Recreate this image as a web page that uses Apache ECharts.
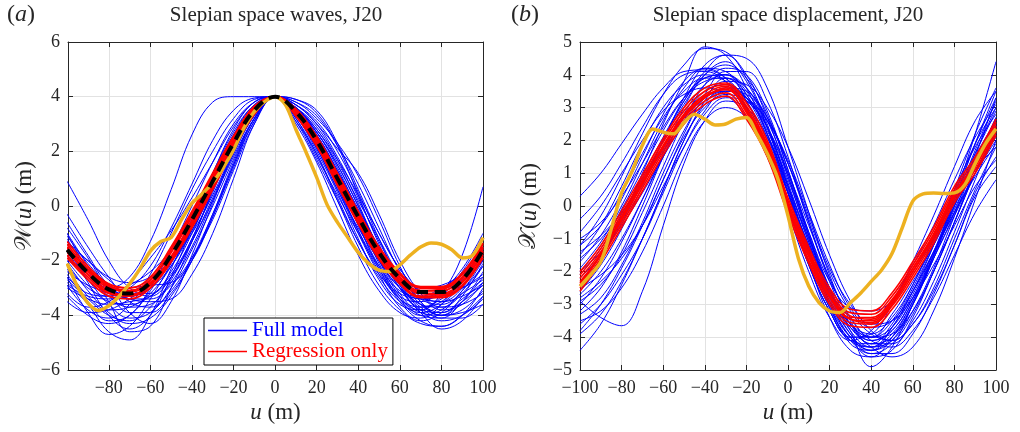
<!DOCTYPE html>
<html><head><meta charset="utf-8">
<script src="https://cdn.jsdelivr.net/npm/echarts@6/dist/echarts.min.js"></script>
<style>html,body{margin:0;padding:0;background:#fff}#c{width:1020px;height:432px}</style>
</head><body><div id="c"></div>
<script>
// ---------- data ----------
const xs = [-100,-90,-80,-70,-60,-50,-40,-30,-20,-10,0,10,20,30,40,50,60,70,80,90,100];
const xsFine = [-100,-95,-90,-85,-80,-75,-70,-65,-60,-55,-50,-45,-40,-35,-30,-25,-20,-15,-10,-5,0,5,10,15,20,25,30,35,40,45,50,55,60,65,70,75,80,85,90,95,100];

// panel (a): waves
const fullModelA = [
 [0.9,-0.5,-2.0,-3.0,-3.3,-2.6,-1.2,0.5,2.2,3.6,4,3.2,1.8,0.4,-1.0,-2.3,-3.4,-3.8,-3.2,-1.8,0.7],
 [-2.5,-3.5,-4.2,-4.0,-3.0,-1.6,0.0,1.6,3.0,3.8,4,3.6,2.8,1.6,0.2,-1.2,-2.6,-3.6,-4.0,-3.5,-2.4],
 [-1.0,-2.2,-3.5,-4.6,-4.4,-3.0,-1.3,0.6,2.4,3.6,4,3.4,2.2,0.7,-0.9,-2.2,-3.1,-3.3,-3.0,-2.5,-2.0],
 [-2.8,-3.6,-4.6,-4.9,-4.0,-2.3,-0.6,1.2,2.7,3.7,4,3.7,3.0,1.8,0.3,-1.3,-2.6,-3.4,-3.6,-3.2,-2.7],
 [-1.4,-2.0,-2.6,-2.8,-2.6,-2.0,-1.0,0.4,2.0,3.4,4,3.3,2.1,0.6,-0.8,-2.0,-3.0,-3.6,-3.9,-3.5,-2.9],
 [-3.0,-3.4,-3.6,-3.5,-3.3,-2.6,-1.3,0.3,1.9,3.3,4,3.5,2.5,1.2,-0.2,-1.6,-2.8,-3.6,-3.7,-3.2,-2.2],
 [-0.3,-1.5,-2.6,-3.5,-3.7,-3.1,-1.9,-0.3,1.5,3.1,4,3.1,1.9,0.3,-1.3,-2.6,-3.5,-3.9,-3.6,-2.8,-1.5],
 [-2.2,-3.0,-3.3,-3.0,-2.2,-0.8,0.8,2.4,3.5,3.95,4,3.9,3.5,2.3,0.6,-1.0,-2.3,-3.1,-3.3,-3.0,-2.5],
 [-1.8,-2.7,-3.6,-4.1,-3.9,-3.0,-1.6,0.0,1.7,3.2,4,3.5,2.6,1.2,-0.4,-2.0,-3.3,-4.0,-4.1,-3.5,-2.6],
 [-2.6,-3.2,-3.3,-2.9,-2.4,-1.6,-0.3,1.2,2.6,3.6,4,3.6,2.7,1.5,0.0,-1.5,-2.6,-3.0,-2.9,-2.5,-1.9],
 [-1.2,-2.4,-3.3,-3.7,-3.6,-2.8,-1.5,0.2,2.0,3.4,4,3.0,1.6,-0.1,-1.8,-3.1,-3.9,-4.1,-3.6,-2.6,-1.5],
 [-3.3,-4.0,-4.3,-4.0,-3.1,-1.9,-0.5,1.0,2.4,3.5,4,3.8,3.3,2.2,0.8,-0.8,-2.4,-3.5,-4.0,-3.9,-3.6],
 [-2.0,-2.9,-3.5,-3.6,-3.3,-2.5,-1.2,0.6,2.4,3.6,4,3.3,2.0,0.5,-1.2,-2.7,-3.6,-3.8,-3.3,-2.4,-1.2],
 [-1.5,-2.8,-4.0,-4.5,-4.0,-2.6,-0.8,1.0,2.6,3.7,4,3.6,2.8,1.7,0.4,-1.0,-2.3,-3.2,-3.7,-3.6,-3.2],
 [-2.4,-2.9,-3.1,-3.0,-2.9,-2.8,-2.0,-0.4,1.5,3.2,4,3.4,2.4,1.0,-0.6,-2.0,-3.0,-3.4,-3.3,-3.0,-2.6],
 [-0.6,-1.8,-2.9,-3.3,-3.0,-2.0,-0.5,1.2,2.8,3.8,4,3.7,3.0,2.1,1.2,-0.3,-2.0,-3.2,-3.8,-3.6,-2.8],
 [-2.9,-3.8,-4.1,-3.6,-2.5,-1.0,0.6,2.0,3.2,3.9,4,3.5,2.4,0.8,-0.9,-2.4,-3.4,-3.7,-3.4,-2.8,-2.0],
 [-1.9,-2.5,-3.0,-3.4,-3.5,-3.4,-2.5,-1.0,1.0,3.0,4,3.2,1.9,0.2,-1.5,-2.9,-3.8,-4.3,-4.4,-4.0,-3.3],
 [-2.3,-3.3,-3.8,-3.7,-3.2,-2.2,-0.8,0.8,2.3,3.5,4,3.7,3.1,2.0,0.5,-1.2,-2.8,-3.8,-4.2,-4.0,-3.4],
 [-1.1,-2.1,-2.9,-3.4,-3.4,-2.9,-1.9,-0.5,1.3,3.0,4,3.3,2.2,0.8,-0.7,-2.2,-3.3,-3.5,-3.1,-2.3,-1.0],
 [-3.5,-3.9,-3.8,-3.4,-2.8,-2.0,-0.9,0.6,2.2,3.5,4,3.4,2.3,0.9,-0.7,-2.3,-3.5,-4.2,-4.4,-4.0,-3.0],
 [-2.7,-3.4,-4.0,-4.2,-3.7,-2.7,-1.3,0.2,1.8,3.2,4,3.6,2.9,1.7,0.1,-1.6,-3.0,-3.8,-3.9,-3.4,-2.8],
 [-1.7,-2.6,-3.2,-3.3,-2.9,-2.0,-0.6,1.0,2.5,3.6,4,3.1,1.7,0.2,-1.3,-2.5,-3.2,-3.4,-3.5,-3.3,-2.9],
 [-2.1,-3.1,-3.9,-4.3,-4.1,-3.3,-2.0,-0.4,1.4,3.1,4,3.5,2.6,1.3,-0.3,-1.8,-3.0,-3.9,-4.5,-4.2,-3.3],
 [-1.0,-2.3,-3.0,-2.6,-1.3,0.6,2.6,3.8,4.0,4.0,4,3.9,3.4,2.2,0.4,-1.4,-2.9,-3.7,-3.5,-2.7,-1.6],
 [-2.0,-2.4,-2.9,-3.9,-4.3,-3.5,-1.8,0.1,1.9,3.3,4,3.6,2.7,1.4,-0.2,-1.9,-3.2,-3.9,-4.0,-3.3,-2.1],
 [-3.2,-3.7,-3.5,-2.8,-1.9,-0.9,0.3,1.6,2.9,3.8,4,3.3,2.1,0.6,-1.0,-2.5,-3.7,-4.2,-3.9,-3.1,-2.2],
 [-1.3,-2.0,-2.7,-3.2,-3.2,-2.4,-1.0,0.7,2.3,3.6,4,3.8,3.2,2.3,1.1,-0.5,-2.2,-3.5,-4.0,-3.8,-3.1],
 [-2.6,-3.9,-4.7,-4.4,-3.4,-2.1,-0.7,0.9,2.3,3.5,4,3.4,2.3,1.0,-0.5,-2.1,-3.4,-4.0,-3.8,-3.1,-2.0],
 [-0.8,-1.9,-3.1,-3.9,-3.9,-3.2,-2.0,-0.3,1.6,3.2,4,3.6,2.6,1.3,-0.1,-1.5,-2.6,-3.3,-3.5,-3.0,-1.8],
 [-2.9,-3.3,-3.4,-3.3,-3.0,-2.2,-0.9,0.7,2.2,3.5,4,3.5,2.7,1.5,0.0,-1.6,-2.9,-3.7,-4.1,-4.1,-3.6]
];
const regressionA = [
 [-1.4,-2.3,-2.9,-3.1,-2.7,-1.6,-0.3,1.1,2.5,3.6,4,3.5,2.5,1.1,-0.3,-1.6,-2.5,-3.0,-3.0,-2.5,-1.4],
 [-1.8,-2.6,-3.2,-3.3,-2.9,-1.9,-0.7,0.7,2.1,3.4,4,3.3,2.2,0.8,-0.6,-1.9,-2.8,-3.3,-3.3,-2.9,-1.8],
 [-1.5,-2.5,-3.1,-3.3,-2.9,-2.0,-0.7,0.8,2.2,3.45,4,3.5,2.5,1.1,-0.3,-1.6,-2.6,-3.2,-3.25,-2.8,-1.7],
 [-1.7,-2.4,-3.0,-3.1,-2.7,-1.7,-0.4,1.0,2.4,3.55,4,3.4,2.3,0.9,-0.5,-1.8,-2.7,-3.1,-3.05,-2.6,-1.5],
 [-1.6,-2.5,-3.15,-3.25,-2.85,-1.85,-0.55,0.85,2.25,3.5,4,3.45,2.4,1.0,-0.4,-1.7,-2.7,-3.2,-3.2,-2.75,-1.65],
 [-1.5,-2.35,-2.95,-3.15,-2.8,-1.9,-0.6,0.9,2.35,3.5,4,3.5,2.45,1.0,-0.45,-1.75,-2.6,-3.1,-3.1,-2.65,-1.55],
 [-1.3,-2.2,-2.85,-3.0,-2.6,-1.5,-0.2,1.2,2.55,3.65,4,3.55,2.55,1.2,-0.2,-1.5,-2.45,-2.95,-2.95,-2.45,-1.35],
 [-1.9,-2.7,-3.3,-3.4,-3.0,-2.05,-0.8,0.6,2.05,3.35,4,3.3,2.2,0.75,-0.65,-1.95,-2.85,-3.35,-3.35,-2.95,-1.9]
];
const meanA = [-1.6,-2.45,-3.05,-3.2,-2.8,-1.8,-0.5,0.9,2.3,3.5,4,3.45,2.4,1.0,-0.4,-1.7,-2.65,-3.15,-3.15,-2.7,-1.6];
const measuredA = [-2.1,-2.95,-3.55,-3.82,-3.65,-3.3,-2.85,-2.3,-1.65,-1.3,-1.15,-0.5,0.1,0.45,0.85,1.4,2.05,2.85,3.45,3.82,4.0,3.7,2.8,1.95,1.05,0.05,-0.6,-1.15,-1.7,-2.1,-2.35,-2.4,-2.15,-1.8,-1.5,-1.35,-1.4,-1.6,-1.9,-1.8,-1.15];

// panel (b): displacement
const fullModelB = [
 [0.3,1.0,1.9,2.8,3.6,4.1,4.15,3.9,3.2,2.0,0.4,-1.2,-2.6,-3.6,-4.1,-3.8,-2.8,-1.5,-0.1,1.2,2.5],
 [-4.4,-3.6,-2.4,-1.0,0.5,2.0,3.2,3.9,3.6,2.4,0.6,-1.3,-2.9,-4.0,-4.4,-4.0,-3.0,-1.6,-0.2,1.5,3.3],
 [-2.9,-3.4,-3.65,-2.6,-0.6,1.3,2.6,3.2,3.0,2.1,0.6,-1.0,-2.5,-3.6,-4.0,-3.7,-2.7,-1.4,0.0,1.1,1.8],
 [-1.2,-0.3,0.9,2.2,3.4,4.3,4.8,4.7,3.9,2.5,0.6,-1.4,-3.0,-4.0,-4.3,-3.9,-2.9,-1.5,0.0,1.6,3.0],
 [-2.0,-1.4,-0.6,0.4,1.5,2.5,3.2,3.5,3.3,2.6,1.3,-0.3,-1.9,-3.0,-3.6,-3.5,-2.8,-1.8,-0.6,0.6,1.4],
 [-3.3,-2.8,-1.8,-0.5,1.0,2.3,3.3,3.8,3.7,3.0,1.8,0.2,-1.5,-2.9,-3.8,-4.1,-3.6,-2.5,-1.0,0.5,1.8],
 [-1.6,-1.0,-0.2,0.8,2.0,3.1,3.9,4.0,3.2,1.8,0.0,-1.8,-3.2,-4.0,-3.9,-3.0,-1.7,-0.3,1.2,2.6,3.5],
 [-2.7,-2.0,-1.0,0.2,1.5,2.7,3.5,3.7,3.3,2.3,0.8,-0.9,-2.5,-3.6,-4.0,-3.5,-2.4,-1.0,0.5,1.8,2.8],
 [-0.8,0.0,1.0,2.0,2.9,3.4,3.6,3.4,2.7,1.5,-0.1,-1.8,-3.2,-4.0,-4.0,-3.3,-2.3,-1.2,0.1,1.4,2.6],
 [-3.8,-3.0,-1.9,-0.6,0.8,2.1,3.0,3.4,3.2,2.4,1.0,-0.6,-2.2,-3.4,-4.1,-4.3,-3.8,-2.8,-1.5,-0.2,0.8],
 [-2.2,-1.5,-0.5,0.7,2.0,3.3,4.3,4.6,4.0,2.7,0.9,-1.0,-2.6,-3.7,-4.3,-4.6,-4.3,-3.2,-1.6,0.2,2.0],
 [-1.9,-1.1,0.0,1.3,2.6,3.6,4.2,4.1,3.4,2.2,0.5,-1.3,-2.9,-4.0,-4.6,-4.4,-3.4,-2.0,-0.5,1.0,2.2],
 [-2.5,-2.1,-1.5,-0.6,0.6,1.8,2.8,3.3,3.2,2.6,1.4,-0.2,-1.8,-3.1,-3.7,-3.5,-2.6,-1.4,-0.2,0.9,1.9],
 [-3.0,-2.2,-1.1,0.2,1.6,3.0,4.0,4.4,3.8,2.4,0.4,-1.7,-3.4,-4.4,-4.6,-4.0,-2.9,-1.5,0.1,1.7,3.2],
 [-1.4,-0.9,-0.2,0.7,1.7,2.6,3.3,3.5,3.3,2.4,0.9,-0.8,-2.3,-3.1,-3.2,-2.9,-2.0,-1.0,0.3,1.6,2.9],
 [-2.9,-2.4,-1.5,-0.2,1.2,2.6,3.7,4.2,4.0,2.9,1.1,-0.9,-2.7,-3.9,-4.5,-4.5,-3.9,-2.7,-1.2,0.4,1.5],
 [-3.5,-3.2,-2.5,-1.4,0.0,1.5,2.6,3.0,2.7,1.8,0.4,-1.2,-2.7,-3.7,-4.1,-3.8,-2.8,-1.4,0.2,1.9,3.5],
 [-0.4,0.3,1.3,2.4,3.4,4.0,4.1,3.8,3.0,1.7,0.0,-1.8,-3.2,-4.1,-4.2,-3.6,-2.5,-1.2,0.3,2.2,4.4],
 [-2.1,-1.3,-0.3,0.9,2.1,3.2,4.0,4.3,3.9,2.8,1.1,-0.8,-2.5,-3.8,-4.9,-4.3,-3.0,-1.6,-0.3,1.0,2.1],
 [-1.0,-0.5,0.3,1.3,2.4,3.3,3.8,3.9,3.4,2.2,0.6,-1.1,-2.6,-3.6,-3.9,-3.4,-2.4,-1.1,0.4,1.9,3.0],
 [-2.6,-1.8,-0.7,0.6,2.0,3.2,4.1,4.6,4.5,3.6,1.8,-0.2,-2.1,-3.5,-4.2,-4.2,-3.5,-2.3,-0.8,0.8,2.3],
 [-3.6,-3.0,-2.1,-1.0,0.4,1.8,2.9,3.5,3.4,2.7,1.3,-0.5,-2.2,-3.4,-4.0,-3.9,-3.2,-2.0,-0.5,1.2,2.7],
 [-1.7,-0.9,0.2,1.5,2.8,3.8,4.2,3.9,3.0,1.6,-0.2,-2.0,-3.4,-4.1,-3.8,-2.9,-1.8,-0.6,0.8,2.1,3.1],
 [-2.4,-1.6,-0.4,1.0,2.5,3.8,4.85,4.6,3.6,2.2,0.4,-1.4,-3.0,-4.2,-4.4,-3.7,-2.6,-1.4,-0.2,1.0,2.0],
 [-3.2,-2.5,-1.4,0.0,1.5,2.8,3.7,4.0,3.6,2.6,1.0,-0.9,-2.6,-3.8,-4.3,-4.1,-3.2,-1.9,-0.3,1.3,2.7],
 [-1.5,-0.6,0.6,1.9,3.0,3.7,4.0,3.8,3.0,1.7,0.0,-1.7,-3.1,-4.1,-4.5,-4.2,-3.3,-2.0,-0.5,1.0,2.3],
 [-2.8,-2.3,-1.6,-0.6,0.8,2.2,3.4,4.1,4.1,3.2,1.5,-0.5,-2.3,-3.6,-4.2,-4.0,-3.0,-1.6,0.0,1.5,2.6],
 [-2.0,-1.2,-0.1,1.1,2.3,3.3,3.9,4.0,3.5,2.4,0.7,-1.1,-2.8,-3.9,-4.4,-4.1,-3.0,-1.5,0.2,1.9,3.3],
 [-3.9,-3.3,-2.3,-1.0,0.5,2.0,3.1,3.6,3.5,2.7,1.3,-0.4,-2.0,-3.2,-3.9,-4.1,-3.6,-2.6,-1.2,0.3,1.2],
 [-1.2,-0.6,0.4,1.6,2.7,3.5,3.9,3.9,3.3,2.1,0.4,-1.5,-3.1,-4.1,-4.3,-3.7,-2.6,-1.2,0.5,2.2,3.6]
];
const regressionB = [
 [-2.1,-1.3,-0.25,0.85,1.95,2.9,3.5,3.7,3.05,1.9,0.15,-1.35,-2.6,-3.25,-3.3,-2.75,-1.8,-0.75,0.5,1.4,2.55],
 [-2.5,-1.6,-0.55,0.55,1.65,2.6,3.2,3.45,2.75,1.6,-0.15,-1.65,-2.9,-3.55,-3.6,-3.05,-2.1,-1.05,0.2,1.1,2.25],
 [-2.3,-1.5,-0.45,0.65,1.75,2.7,3.3,3.55,2.95,1.8,0.05,-1.45,-2.7,-3.35,-3.45,-2.9,-1.9,-0.85,0.4,1.3,2.45],
 [-2.2,-1.4,-0.35,0.75,1.85,2.8,3.4,3.65,2.85,1.7,-0.05,-1.55,-2.8,-3.45,-3.5,-2.95,-2.0,-0.95,0.3,1.2,2.35],
 [-2.4,-1.5,-0.4,0.7,1.8,2.75,3.35,3.55,2.9,1.75,0.0,-1.5,-2.75,-3.4,-3.4,-2.85,-1.9,-0.9,0.35,1.25,2.4],
 [-2.35,-1.45,-0.35,0.75,1.8,2.7,3.3,3.6,2.95,1.8,0.05,-1.45,-2.7,-3.45,-3.55,-3.0,-2.0,-0.95,0.3,1.2,2.35],
 [-2.0,-1.2,-0.15,0.95,2.05,3.0,3.6,3.75,3.15,2.0,0.25,-1.25,-2.5,-3.15,-3.2,-2.65,-1.7,-0.65,0.6,1.5,2.65],
 [-2.6,-1.7,-0.65,0.45,1.55,2.5,3.1,3.35,2.65,1.5,-0.25,-1.75,-3.0,-3.65,-3.7,-3.15,-2.2,-1.15,0.1,1.0,2.15]
];
const measuredB = [-2.45,-2.1,-1.7,-0.7,0.4,1.05,1.85,2.35,2.25,2.2,2.55,2.8,2.65,2.47,2.5,2.65,2.7,2.2,1.6,0.85,-0.3,-1.6,-2.45,-2.95,-3.2,-3.25,-2.95,-2.65,-2.3,-1.95,-1.45,-0.65,0.15,0.37,0.4,0.38,0.4,0.65,1.3,1.9,2.35];

const xTicksA = [-80,-60,-40,-20,0,20,40,60,80,100];

// ---------- chart ----------
const SERIF = '"Liberation Serif","Times New Roman",serif';
const AX = '#262626';
const minus = v => String(v).replace('-', '\u2212');
const pairs = (x, y) => x.map((v, i) => [v, y[i]]);

function xAxisPair(grid, min, max, custom) {
  const lbl = {fontFamily: SERIF, fontSize: 18, color: AX, margin: 9, formatter: minus};
  const tick = {inside: true, length: 5, lineStyle: {color: AX}};
  if (custom) { lbl.customValues = custom; tick.customValues = custom; }
  const base = {type: 'value', gridIndex: grid, min, max, axisLine: {show: true, onZero: false, lineStyle: {color: AX, width: 1}}};
  if (!custom) base.interval = 20;
  return [
    Object.assign({}, base, {position: 'bottom', axisTick: tick, axisLabel: lbl,
      splitLine: {show: true, lineStyle: {color: '#e2e2e2', width: 1}},
      name: '{i|u} (m)', nameLocation: 'middle', nameGap: 30,
      nameTextStyle: {fontFamily: SERIF, fontSize: 23, color: AX, rich: {i: {fontFamily: SERIF, fontSize: 23, fontStyle: 'italic', color: AX}}}}),
    Object.assign({}, base, {position: 'top', axisTick: tick, axisLabel: {show: false, customValues: custom || undefined}, splitLine: {show: false}})
  ];
}
function yAxisPair(grid, min, max, interval, name, gap) {
  const base = {type: 'value', gridIndex: grid, min, max, interval, axisLine: {show: true, onZero: false, lineStyle: {color: AX, width: 1}},
    axisTick: {inside: true, length: 5, lineStyle: {color: AX}}};
  return [
    Object.assign({}, base, {position: 'left', axisLabel: {fontFamily: SERIF, fontSize: 18, color: AX, margin: 8, formatter: minus},
      splitLine: {show: true, lineStyle: {color: '#e2e2e2', width: 1}},
      name, nameLocation: 'middle', nameGap: gap, nameRotate: 90,
      nameTextStyle: {fontFamily: SERIF, fontSize: 23, color: AX, rich: {i: {fontFamily: SERIF, fontSize: 23, fontStyle: 'italic', color: AX}, s: {fontFamily: '"DejaVu Serif","Noto Sans",serif', fontSize: 23, color: AX}}}}),
    Object.assign({}, base, {position: 'right', axisLabel: {show: false}, splitLine: {show: false}})
  ];
}

const series = [];
function addLines(list, xv, g, name, color, width, z, extra) {
  list.forEach(arr => series.push(Object.assign({
    type: 'line', name, xAxisIndex: g * 2, yAxisIndex: g * 2, data: pairs(xv, arr),
    smooth: 0.4, symbol: 'none', showSymbol: false, silent: true, z,
    lineStyle: {color, width}, itemStyle: {color}, emphasis: {disabled: true}
  }, extra || {})));
}
addLines(fullModelA, xs, 0, 'Full model', '#0000ff', 1, 2);
addLines(regressionA, xs, 0, 'Regression only', '#ff0000', 1.8, 3);
addLines([measuredA], xsFine, 0, 'Measured', '#EDB120', 3.5, 4, {smooth: 0.3});
addLines([meanA], xs, 0, 'Mean', '#000000', 4, 5, {lineStyle: {color: '#000', width: 4, type: [11, 7]}});
addLines(fullModelB, xs, 1, 'Full model', '#0000ff', 1, 2);
addLines(regressionB, xs, 1, 'Regression only', '#ff0000', 1.6, 3);
addLines([measuredB], xsFine, 1, 'Measured', '#EDB120', 3.5, 4, {smooth: 0.3});

const xa = xAxisPair(0, -99.6, 100, xTicksA).concat(xAxisPair(1, -100, 100, null));
const ya = yAxisPair(0, -6, 6, 2, '{s|\uD835\uDCB2}({i|u}) (m)', 29).concat(yAxisPair(1, -5, 5, 1, '{s|\uD835\uDCB3}({i|u}) (m)', 39));

const chart = echarts.init(document.getElementById('c'), null, {renderer: 'canvas'});
chart.setOption({
  animation: false,
  backgroundColor: '#fff',
  grid: [
    {left: 68, top: 42, width: 415, height: 328, containLabel: false},
    {left: 580, top: 42, width: 416, height: 328, containLabel: false}
  ],
  xAxis: xa,
  yAxis: ya,
  legend: {
    left: 204, top: 318, orient: 'vertical', itemGap: 0, itemWidth: 39, itemHeight: 1.5, icon: 'rect',
    padding: [2, 5, 3, 4], backgroundColor: '#fff', borderColor: '#000', borderWidth: 1, selectedMode: false,
    textStyle: {fontFamily: SERIF, fontSize: 21, lineHeight: 21},
    data: [
      {name: 'Full model', textStyle: {color: '#0000ff'}},
      {name: 'Regression only', textStyle: {color: '#ff0000'}}
    ]
  },
  graphic: [
    {type: 'text', x: 276, y: 15, style: {text: 'Slepian space waves, J20', font: '21px ' + SERIF, fill: AX, align: 'center', verticalAlign: 'middle'}},
    {type: 'text', x: 788, y: 15, style: {text: 'Slepian space displacement, J20', font: '21px ' + SERIF, fill: AX, align: 'center', verticalAlign: 'middle'}},
    {type: 'text', x: 7, y: 15, style: {text: '({i|a})', font: '24px ' + SERIF, fill: AX, verticalAlign: 'middle', rich: {i: {fontFamily: SERIF, fontSize: 24, fontStyle: 'italic', fill: AX}}}},
    {type: 'text', x: 511, y: 15, style: {text: '({i|b})', font: '24px ' + SERIF, fill: AX, verticalAlign: 'middle', rich: {i: {fontFamily: SERIF, fontSize: 24, fontStyle: 'italic', fill: AX}}}}
  ],
  series
});
</script>
</body></html>
